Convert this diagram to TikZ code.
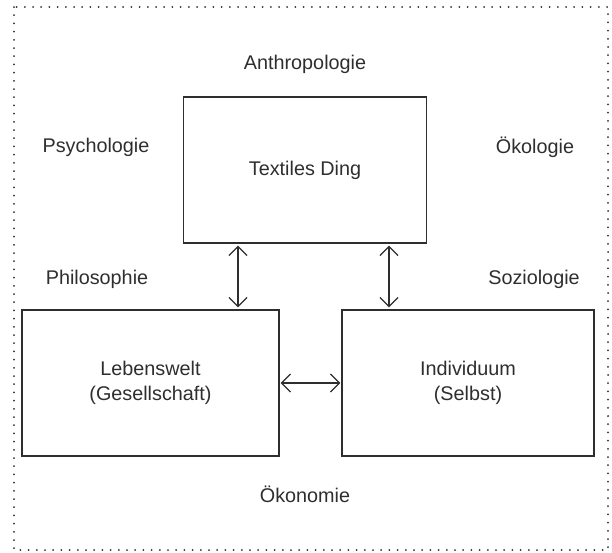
\documentclass[tikz,border=0pt]{standalone}
\usepackage{fontspec}
\setmainfont{Liberation Sans}
\usetikzlibrary{arrows.meta}
\definecolor{ink}{HTML}{2E2E2E}
\begin{document}
\begin{tikzpicture}[x=1pt,y=-1pt,
  every node/.style={text=ink, font=\fontsize{19.8}{25}\selectfont},
  field/.style={draw=ink, line width=1.4pt, minimum width=#1, minimum height=146pt, inner sep=0pt, align=center},
  link/.style={draw=ink, line width=1.2pt, shorten >=2pt, shorten <=2pt, {Straight Barb[length=9pt,width=18pt]}-{Straight Barb[length=9pt,width=18pt]}},
  frame/.style={draw=ink, line width=2pt, line cap=round, dash pattern=on 0pt off 8.2pt}]
  \useasboundingbox (0,0) rectangle (612,552);
  \draw[frame] (14,7) rectangle (608,550);

  % boxes
  \node[field=243pt] (ding) at (305,170) {Textiles Ding};
  \node[field=257pt] (welt) at (150.5,383) {Lebenswelt\\(Gesellschaft)};
  \node[field=252pt] (ich) at (468,383) {Individuum\\(Selbst)};

  % disciplines
  \node (anthro) at (305,64) {Anthropologie};
  \node (psych) at (96,147) {Psychologie};
  \node (oeko) at (535,147) {Ökologie};
  \node (philo) at (97,279) {Philosophie};
  \node (sozio) at (534,279) {Soziologie};
  \node (oekon) at (305,494) {Ökonomie};

  % connectors
  \coordinate (lx) at (238,0);
  \coordinate (rx) at (389,0);
  \draw[link] (ding.south -| lx) -- (welt.north -| lx);
  \draw[link] (ding.south -| rx) -- (ich.north -| rx);
  \draw[link, shorten >=1pt, shorten <=1pt] (welt) -- (ich);
\end{tikzpicture}
\end{document}
